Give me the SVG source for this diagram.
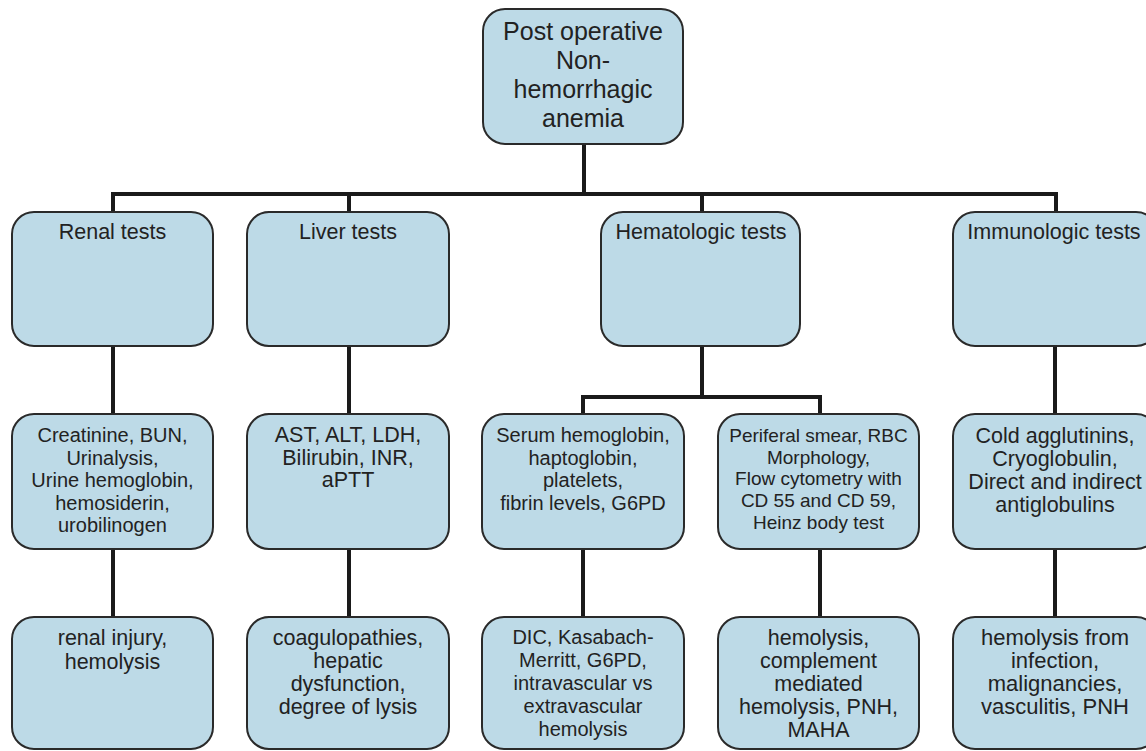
<svg xmlns="http://www.w3.org/2000/svg" width="1146" height="751" viewBox="0 0 1146 751">
<style>
.box{fill:#bddae7;stroke:#2a2a2a;stroke-width:2}
.t{font-family:"Liberation Sans",Arial,sans-serif;font-size:20px;fill:#222;text-anchor:middle}
.big{font-size:25px}
.sm{font-size:19px}
.h{font-size:21.5px}
.l{font-size:21.5px}
.xl{font-size:22px}
.c{fill:none;stroke:#1a1a1a;stroke-width:4;stroke-linecap:square}
</style>
<rect width="1146" height="751" fill="#ffffff"/>
<g id="connectors">
<path class="c" d="M584 144V194M113 194H1056M113 194V212M349 194V212M702 194V212M1056 194V212"/>
<path class="c" d="M113 346V414M349 346V414M1055 346V414M702 346V397M583 397H820M583 397V414M820 397V414"/>
<path class="c" d="M113 549V617M349 549V617M583 549V617M820 549V617M1055 549V617"/>
</g>
<g id="root">
<rect class="box" x="483" y="9" width="200" height="135" rx="22"/>
<text class="t big" x="583" y="40">Post operative</text>
<text class="t big" x="583" y="69">Non-</text>
<text class="t big" x="583" y="98">hemorrhagic</text>
<text class="t big" x="583" y="127">anemia</text>
</g>
<g id="renal">
<rect class="box" x="12" y="212" width="201" height="134" rx="22"/>
<text class="t h" x="112.5" y="239">Renal tests</text>
</g>
<g id="liver">
<rect class="box" x="247" y="212" width="202" height="134" rx="22"/>
<text class="t h" x="348" y="239">Liver tests</text>
</g>
<g id="hematologic">
<rect class="box" x="601" y="212" width="199" height="134" rx="22"/>
<text class="t h" x="701" y="239">Hematologic tests</text>
</g>
<g id="immunologic">
<rect class="box" x="953" y="212" width="205" height="134" rx="22"/>
<text class="t h" x="1054" y="239">Immunologic tests</text>
</g>
<g id="renal-tests">
<rect class="box" x="12" y="414" width="201" height="135" rx="22"/>
<text class="t" x="112.5" y="442">Creatinine, BUN,</text>
<text class="t" x="112.5" y="464.5">Urinalysis,</text>
<text class="t" x="112.5" y="487">Urine hemoglobin,</text>
<text class="t" x="112.5" y="509.5">hemosiderin,</text>
<text class="t" x="112.5" y="532">urobilinogen</text>
</g>
<g id="liver-tests">
<rect class="box" x="247" y="414" width="202" height="135" rx="22"/>
<text class="t l" x="348" y="442">AST, ALT, LDH,</text>
<text class="t l" x="348" y="464.5">Bilirubin, INR,</text>
<text class="t l" x="348" y="487">aPTT</text>
</g>
<g id="serum-tests">
<rect class="box" x="482" y="414" width="202" height="135" rx="22"/>
<text class="t" x="583" y="442">Serum hemoglobin,</text>
<text class="t" x="583" y="464.5">haptoglobin,</text>
<text class="t" x="583" y="487">platelets,</text>
<text class="t" x="583" y="509.5">fibrin levels, G6PD</text>
</g>
<g id="smear-tests">
<rect class="box" x="718" y="414" width="201" height="135" rx="22"/>
<text class="t sm" x="818.5" y="442">Periferal smear, RBC</text>
<text class="t sm" x="818.5" y="463.7">Morphology,</text>
<text class="t sm" x="818.5" y="485.4">Flow cytometry with</text>
<text class="t sm" x="818.5" y="507.1">CD 55 and CD 59,</text>
<text class="t sm" x="818.5" y="528.8">Heinz body test</text>
</g>
<g id="immuno-tests">
<rect class="box" x="953" y="414" width="205" height="135" rx="22"/>
<text class="t l" x="1055" y="443">Cold agglutinins,</text>
<text class="t l" x="1055" y="466">Cryoglobulin,</text>
<text class="t l" x="1055" y="489">Direct and indirect</text>
<text class="t l" x="1055" y="512">antiglobulins</text>
</g>
<g id="renal-dx">
<rect class="box" x="12" y="617" width="201" height="132" rx="22"/>
<text class="t l" x="112.5" y="645">renal injury,</text>
<text class="t l" x="112.5" y="668.5">hemolysis</text>
</g>
<g id="liver-dx">
<rect class="box" x="247" y="617" width="202" height="132" rx="22"/>
<text class="t l" x="348" y="645">coagulopathies,</text>
<text class="t l" x="348" y="668">hepatic</text>
<text class="t l" x="348" y="691">dysfunction,</text>
<text class="t l" x="348" y="714">degree of lysis</text>
</g>
<g id="serum-dx">
<rect class="box" x="482" y="617" width="202" height="132" rx="22"/>
<text class="t" x="583" y="644">DIC, Kasabach-</text>
<text class="t" x="583" y="667">Merritt, G6PD,</text>
<text class="t" x="583" y="690">intravascular vs</text>
<text class="t" x="583" y="713">extravascular</text>
<text class="t" x="583" y="736">hemolysis</text>
</g>
<g id="smear-dx">
<rect class="box" x="718" y="617" width="201" height="132" rx="22"/>
<text class="t l" x="818.5" y="645">hemolysis,</text>
<text class="t l" x="818.5" y="668">complement</text>
<text class="t l" x="818.5" y="691">mediated</text>
<text class="t l" x="818.5" y="714">hemolysis, PNH,</text>
<text class="t l" x="818.5" y="737">MAHA</text>
</g>
<g id="immuno-dx">
<rect class="box" x="953" y="617" width="205" height="132" rx="22"/>
<text class="t xl" x="1055" y="645">hemolysis from</text>
<text class="t xl" x="1055" y="668">infection,</text>
<text class="t xl" x="1055" y="691">malignancies,</text>
<text class="t xl" x="1055" y="714">vasculitis, PNH</text>
</g>
</svg>
